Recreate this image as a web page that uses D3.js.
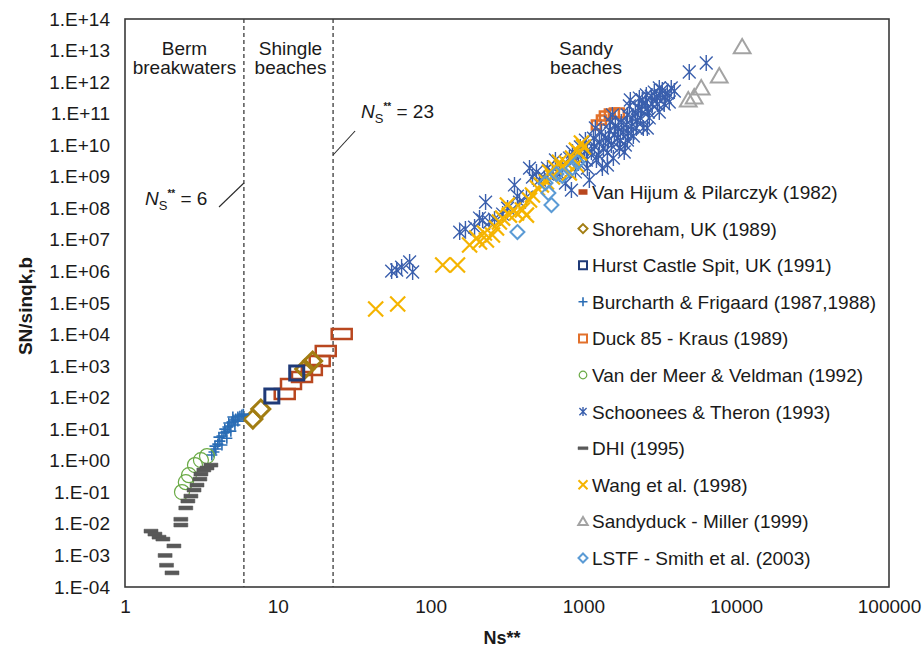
<!DOCTYPE html>
<html>
<head>
<meta charset="utf-8">
<script src="https://cdn.jsdelivr.net/npm/d3@7"></script>
<style>
  body { margin: 0; background: #fff; }
  svg { display: block; }
  text { font-family: "Liberation Sans", Arial, Helvetica, sans-serif; fill: #1a1a1a; }
</style>
</head>
<body>
<svg id="chart" width="923" height="651"></svg>
<script>
// ---- axis ticks ----
const xTicks = [1, 10, 100, 1000, 10000, 100000];
const yTicks = [1e-4, 1e-3, 1e-2, 1e-1, 1e0, 1e1, 1e2, 1e3, 1e4, 1e5, 1e6, 1e7,
                1e8, 1e9, 1e10, 1e11, 1e12, 1e13, 1e14];

// ---- threshold lines (Ns**) ----
const thresholds = [6, 23];

// ---- data series: [Ns**, SN/sinqk,b] ----
const vanHijum = [[11.1, 130], [12.2, 270], [14.4, 450], [16.7, 750], [18.8, 1445], [20.6, 3000], [26.2, 10400]];
const shoreham = [[6.87, 21], [7.74, 43.6], [15.0, 805], [16.9, 1445]];
const hurst = [[9.14, 112], [13.3, 603]];
const burcharth = [[3.70, 1.52], [3.82, 1.89], [3.93, 2.35], [3.88, 2.92], [4.05, 3.38], [4.18, 4.21],
  [4.12, 5.6], [4.31, 6.1], [4.44, 7.6], [4.57, 8.1], [4.50, 10.1], [4.71, 11.7], [4.86, 12.6],
  [4.78, 15.7], [5.01, 16.9], [5.16, 19.5], [5.31, 21], [5.08, 24.3], [5.48, 24.3], [5.65, 26],
  [5.82, 28], [5.95, 30], [4.31, 3.15], [4.64, 5.2], [4.93, 8.7], [5.24, 13.6], [5.48, 18.1]];
const duck85 = [[1216, 4.4e10], [1312, 6.3e10], [1372, 8.4e10], [1479, 9.7e10], [1595, 1.05e11], [1718, 1.05e11]];
const vanDerMeer = [[2.36, 0.102], [2.50, 0.21], [2.62, 0.35], [2.87, 0.73], [3.14, 1.05], [3.44, 1.41]];
const schoonees = [[55.6, 1.03e6], [60.0, 1.11e6], [64.6, 1.38e6], [72.9, 1.99e6], [76.3, 9.6e5],
  [155, 1.77e7], [169, 2.21e7], [194, 2.55e7], [209, 4.93e7], [219, 4.26e7], [229, 1.58e8],
  [243, 3.68e7], [262, 4.58e7], [296, 6.6e7], [319, 1.02e8], [354, 5.5e8], [370, 2.45e8],
  [382, 1.58e8], [424, 2.28e8], [444, 1.89e9], [464, 9.8e8], [493, 1.42e9], [516, 7.9e8],
  [556, 9.1e8], [582, 1.89e9], [627, 1.42e9], [656, 3.4e9], [697, 1.22e9], [729, 2.36e9],
  [763, 6.3e8], [810, 3.93e9], [835, 3.8e8], [848, 6.1e9], [887, 1.42e9], [928, 2.73e9],
  [971, 4.9e9], [1016, 8.1e9], [1031, 1.46e10], [1062, 1.89e9], [1094, 7.9e8], [1128, 6.1e9],
  [1180, 9.4e9], [1217, 3.4e9], [1273, 1.26e10], [1312, 2.62e10], [1331, 1.89e9], [1393, 1.69e10],
  [1436, 5.7e9], [1479, 3.03e10], [1524, 1.01e10], [1571, 3.93e9], [1619, 4.06e10], [1668, 1.69e10],
  [1718, 8.1e9], [1771, 5.4e10], [1825, 2.62e10], [1882, 1.01e10], [1940, 9.1e10], [1999, 1.75e11],
  [2060, 4.06e10], [2123, 1.96e10], [2188, 1.05e11], [2254, 6.3e10], [2323, 3.13e11], [2394, 1.31e11],
  [2467, 3.51e10], [2542, 2.18e11], [2620, 1.51e11], [2700, 7.3e10], [2782, 3.62e11], [2911, 4.85e11],
  [3047, 2.02e11], [3139, 6.5e11], [3284, 5.6e11], [3436, 3.37e11], [3648, 2.34e11], [3937, 5.2e11],
  [4930, 2.09e12], [6366, 4.03e12], [1850, 6.1e9], [1940, 1.46e10], [2620, 3.51e10], [3139, 1.13e11],
  [1436, 2.36e9], [873, 3.4e9], [955, 8.8e9], [1062, 7.0e9], [1163, 1.69e10], [1254, 4.9e9],
  [1352, 8.1e9], [1457, 1.46e10], [1501, 5.4e10], [1595, 2.1e10], [1694, 3.51e10], [1745, 1.46e10],
  [1910, 4.4e10], [1968, 2.44e10], [2091, 7.3e10], [2219, 3.51e10], [2287, 1.51e11], [2358, 7.3e10],
  [2430, 2.71e11], [2582, 3.9e11], [2661, 1.13e11], [2825, 2.02e11], [3000, 3.37e11], [3184, 3.9e11],
  [3381, 2.02e11], [3540, 4.5e11], [3758, 6.5e11], [1046, 3.4e9], [1197, 3.51e10], [1548, 9.1e10],
  [2028, 2.71e11]];
const dhi = [[1.48, 5.9e-3], [1.57, 4.75e-3], [1.67, 3.8e-3], [1.77, 3.3e-3], [2.09, 2.0e-3],
  [1.83, 1.0e-3], [1.87, 4.9e-4], [2.03, 2.8e-4], [2.32, 1.4e-2], [2.32, 9.2e-3], [2.50, 3.2e-2],
  [2.58, 5.3e-2], [2.70, 7.6e-2], [2.83, 0.118], [2.96, 0.17], [3.09, 0.263], [3.14, 0.38],
  [3.28, 0.51], [3.44, 0.59], [3.65, 0.73]];
const wang = [[43.7, 6.43e4], [60.9, 9.27e4], [120, 1.6e6], [150, 1.6e6], [180, 6.9e6], [200, 1.15e7],
  [209, 8.6e6], [225, 1.65e7], [232, 9.9e6], [254, 1.43e7], [270, 2.38e7], [282, 3.7e7], [296, 4.9e7],
  [318, 1.27e8], [328, 6.1e7], [349, 8.8e7], [365, 7.1e7], [399, 8.8e7], [424, 6.1e7], [444, 1.83e8],
  [464, 2.64e8], [500, 4.4e8], [531, 5.5e8], [573, 6.8e8], [600, 1.42e9], [627, 9.8e8], [656, 1.9e9],
  [697, 2.9e9], [718, 2.0e9], [774, 2.7e9], [809, 1.32e9], [848, 3.9e9], [900, 2.4e9], [900, 7.0e9],
  [942, 5.7e9], [970, 1.17e10], [1000, 8.8e9]];
const sandyduck = [[4855, 2.71e11], [5310, 3.37e11], [5902, 6.5e11], [7745, 1.56e12], [10940, 1.3e13]];
const lstf = [[370, 1.77e7], [618, 1.27e8], [590, 3.05e8], [565, 6.3e8], [666, 1.22e9], [729, 1.06e9],
  [848, 1.9e9], [914, 2.9e9]];

const seriesNames = [
  "Van Hijum & Pilarczyk (1982)", "Shoreham, UK (1989)", "Hurst Castle Spit, UK (1991)",
  "Burcharth & Frigaard (1987,1988)", "Duck 85 - Kraus (1989)", "Van der Meer & Veldman (1992)",
  "Schoonees & Theron (1993)", "DHI (1995)", "Wang et al. (1998)", "Sandyduck - Miller (1999)",
  "LSTF - Smith et al. (2003)"
];

// ---- marker shapes (paths centred on 0,0) ----
const shapes = {
  wideRect: (s) => `M${-s},${-s / 2}H${s}V${s / 2}H${-s}Z`,
  diamond: (s) => `M0,${-s}L${s},0L0,${s}L${-s},0Z`,
  square: (s) => `M${-s},${-s}H${s}V${s}H${-s}Z`,
  plus: (s) => `M${-s},0H${s}M0,${-s}V${s}`,
  circle: (s) => `M${s},0A${s},${s} 0 1,1 ${-s},0A${s},${s} 0 1,1 ${s},0Z`,
  star: (s) => `M${-s * 0.8},${-s * 0.8}L${s * 0.8},${s * 0.8}M${-s * 0.8},${s * 0.8}L${s * 0.8},${-s * 0.8}M0,${-s}V${s}`,
  dash: (s) => `M${-s},${-s * 0.28}H${s}V${s * 0.28}H${-s}Z`,
  cross: (s) => `M${-s},${-s}L${s},${s}M${-s},${s}L${s},${-s}`,
  triangle: (s) => `M0,${-s}L${s * 1.05},${s * 0.8}H${-s * 1.05}Z`
};

const series = [
  { name: seriesNames[0], data: vanHijum,   shape: "wideRect", size: 10,  lsize: 3.5, color: "#b9471f", fill: "none", sw: 2.5, lfill: true },
  { name: seriesNames[1], data: shoreham,   shape: "diamond",  size: 9,   lsize: 4.5, color: "#a27d12", fill: "none", sw: 3 },
  { name: seriesNames[2], data: hurst,      shape: "square",   size: 7,   lsize: 4,   color: "#1f3a78", fill: "none", sw: 3 },
  { name: seriesNames[3], data: burcharth,  shape: "plus",     size: 5.5, lsize: 4.5, color: "#2a6db5", fill: "none", sw: 1.6 },
  { name: seriesNames[4], data: duck85,     shape: "square",   size: 4.5, lsize: 4,   color: "#e2702b", fill: "none", sw: 2.5 },
  { name: seriesNames[5], data: vanDerMeer, shape: "circle",   size: 7.5, lsize: 3.8, color: "#6aaa45", fill: "none", sw: 1.2 },
  { name: seriesNames[6], data: schoonees,  shape: "star",     size: 8,   lsize: 4.5, color: "#3a5fad", fill: "none", sw: 1.4 },
  { name: seriesNames[7], data: dhi,        shape: "dash",     size: 7,   lsize: 5,   color: "#595959", fill: "#595959", sw: 0.5 },
  { name: seriesNames[8], data: wang,       shape: "cross",    size: 7.5, lsize: 4.5, color: "#f5b400", fill: "none", sw: 2.2 },
  { name: seriesNames[9], data: sandyduck,  shape: "triangle", size: 8,   lsize: 4.5, color: "#a3a3a3", fill: "none", sw: 2 },
  { name: seriesNames[10], data: lstf,      shape: "diamond",  size: 7,   lsize: 4.5, color: "#5b9bd5", fill: "none", sw: 2 }
];

// ---- layout ----
const svg = d3.select("#chart");
const plot = { left: 125, right: 889, top: 19, bottom: 587 };

const x = d3.scaleLog().domain([1, 100000]).range([plot.left, plot.right]);
const y = d3.scaleLog().domain([1e-4, 1e14]).range([plot.bottom, plot.top]);

const yFmt = (v) => {
  const e = Math.round(Math.log10(v));
  return "1.E" + (e < 0 ? "-" : "+") + String(Math.abs(e)).padStart(2, "0");
};

// y axis
const yAxis = svg.append("g")
  .attr("transform", `translate(${plot.left},0)`)
  .call(d3.axisLeft(y).tickValues(yTicks).tickFormat(yFmt).tickSize(0).tickPadding(15));
yAxis.select(".domain").remove();
yAxis.selectAll("text").style("font-size", "19px").attr("fill", "#1a1a1a");

// x axis
const xAxis = svg.append("g")
  .attr("transform", `translate(0,${plot.bottom})`)
  .call(d3.axisBottom(x).tickValues(xTicks).tickFormat(d3.format("d")).tickSize(0).tickPadding(13));
xAxis.select(".domain").remove();
xAxis.selectAll("text").style("font-size", "19px").attr("fill", "#1a1a1a");

// axis titles
svg.append("text")
  .attr("x", (plot.left + plot.right) / 2 - 5).attr("y", 644)
  .attr("text-anchor", "middle")
  .style("font-size", "18px").style("font-weight", "bold")
  .text("Ns**");

svg.append("text")
  .attr("transform", `translate(32,306) rotate(-90)`)
  .attr("text-anchor", "middle")
  .style("font-size", "19px").style("font-weight", "bold")
  .text("SN/sinqk,b");

// threshold lines
svg.append("g").selectAll("line").data(thresholds).join("line")
  .attr("x1", d => x(d)).attr("x2", d => x(d))
  .attr("y1", plot.top).attr("y2", plot.bottom)
  .attr("stroke", "#2b2b2b").attr("stroke-width", 1.2)
  .attr("stroke-dasharray", "4,3");

// region labels
const regions = [
  { lines: ["Berm", "breakwaters"], cx: (x(1) + x(6)) / 2 },
  { lines: ["Shingle", "beaches"], cx: (x(6) + x(23)) / 2 + 2 },
  { lines: ["Sandy", "beaches"], cx: 586 }
];
regions.forEach(r => {
  const t = svg.append("text").attr("text-anchor", "middle").style("font-size", "19px");
  r.lines.forEach((ln, i) => t.append("tspan").attr("x", r.cx).attr("y", 55 + i * 19).text(ln));
});

// threshold annotations
function nsLabel(xp, yp, val) {
  const t = svg.append("text").attr("x", xp).attr("y", yp).style("font-size", "19px");
  t.append("tspan").style("font-style", "italic").text("N");
  t.append("tspan").attr("dy", 5).style("font-size", "13px").text("S");
  t.append("tspan").attr("dy", -13).style("font-size", "10px").style("font-weight", "bold").text("**");
  t.append("tspan").attr("dy", 8).text(" = " + val);
}
nsLabel(145, 205, thresholds[0]);
nsLabel(361, 118, thresholds[1]);
svg.append("line").attr("x1", 219).attr("y1", 207).attr("x2", x(thresholds[0])).attr("y2", 183)
  .attr("stroke", "#2b2b2b").attr("stroke-width", 1.1);
svg.append("line").attr("x1", x(thresholds[1])).attr("y1", 155).attr("x2", x(thresholds[1]) + 22).attr("y2", 131)
  .attr("stroke", "#2b2b2b").attr("stroke-width", 1.1);

// data points
const pts = svg.append("g");
series.forEach(s => {
  pts.append("g").selectAll("path").data(s.data).join("path")
    .attr("transform", d => `translate(${x(d[0])},${y(d[1])})`)
    .attr("d", shapes[s.shape](s.size))
    .attr("fill", s.fill)
    .attr("stroke", s.color)
    .attr("stroke-width", s.sw);
});

// legend
const legend = svg.append("g");
series.forEach((s, i) => {
  const cy = 192 + i * 36.6;
  legend.append("path")
    .attr("transform", `translate(583,${cy})`)
    .attr("d", shapes[s.shape](s.lsize))
    .attr("fill", s.lfill ? s.color : s.fill)
    .attr("stroke", s.color)
    .attr("stroke-width", Math.min(s.sw, 2));
  legend.append("text")
    .attr("x", 592).attr("y", cy + 7)
    .style("font-size", "19px")
    .text(s.name);
});

// plot frame
svg.append("rect")
  .attr("x", plot.left).attr("y", plot.top)
  .attr("width", plot.right - plot.left).attr("height", plot.bottom - plot.top)
  .attr("fill", "none").attr("stroke", "#3a3a3a").attr("stroke-width", 1.6);
</script>
</body>
</html>
